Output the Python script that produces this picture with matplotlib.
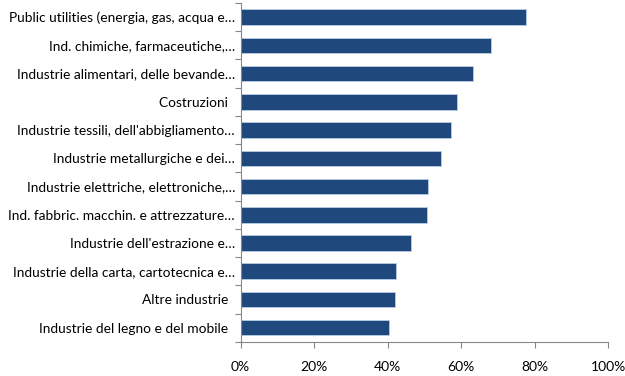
import matplotlib
matplotlib.use("Agg")
import matplotlib.pyplot as plt
from matplotlib.ticker import PercentFormatter

# categories top to bottom as shown
categories = [
    "Public utilities (energia, gas, acqua e\u2026",
    "Ind. chimiche, farmaceutiche,\u2026",
    "Industrie alimentari, delle bevande\u2026",
    "Costruzioni  ",
    "Industrie tessili, dell'abbigliamento\u2026",
    "Industrie metallurgiche e dei\u2026",
    "Industrie elettriche, elettroniche,\u2026",
    "Ind. fabbric. macchin. e attrezzature\u2026",
    "Industrie dell'estrazione e\u2026",
    "Industrie della carta, cartotecnica e\u2026",
    "Altre industrie  ",
    "Industrie del legno e del mobile  ",
]
values = [77.6, 68.2, 63.3, 58.8, 57.2, 54.5, 50.9, 50.6, 46.3, 42.3, 42.0, 40.5]
x_ticks = [0, 20, 40, 60, 80, 100]

plt.rcParams["font.family"] = ["Lato", "DejaVu Sans"]

fig = plt.figure(figsize=(6.25, 3.76), dpi=100)
ax = fig.add_axes([0.385, 0.091, 0.588, 0.901])

n = len(categories)
ypos = list(range(n - 1, -1, -1))
ax.barh(ypos, values, height=0.55, color="#1F497D", edgecolor="#B9CDE5", linewidth=0.6)

ax.set_xlim(0, 100)
ax.set_ylim(-0.5, n - 0.5)
ax.set_xticks(x_ticks)
ax.xaxis.set_major_formatter(PercentFormatter(decimals=0))

# y ticks at category boundaries, labels in the centre
ax.set_yticks([i + 0.5 for i in range(-1, n)])
ax.set_yticklabels([])
ax.set_yticks(ypos, minor=True)
ax.set_yticklabels(categories, minor=True)
ax.tick_params(axis="y", which="minor", length=0, pad=4, labelsize=9.9, colors="#000000")
ax.tick_params(axis="y", which="major", length=4, color="#868686", width=0.8)
ax.tick_params(axis="x", length=4, color="#868686", width=0.8, pad=10, labelsize=10)

for s in ["top", "right"]:
    ax.spines[s].set_visible(False)
for s in ["left", "bottom"]:
    ax.spines[s].set_color("#868686")
    ax.spines[s].set_linewidth(0.8)

fig.savefig("out.png", dpi=100)
